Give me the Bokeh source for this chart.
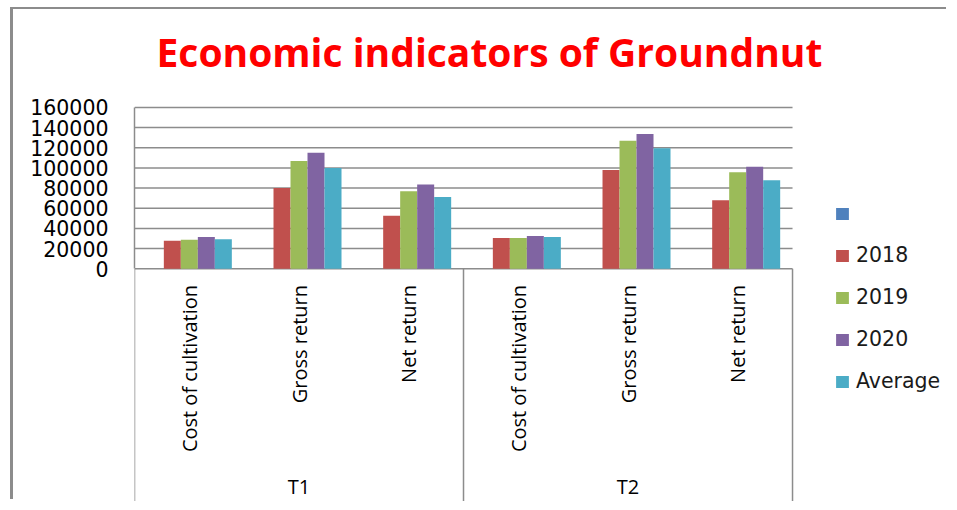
import math
from bokeh.plotting import figure
from bokeh.models import (ColumnDataSource, Range1d, FixedTicker, BasicTickFormatter,
                          Legend, LegendItem, Title)
from bokeh.transform import dodge
from bokeh.core.properties import value
from bokeh.embed import file_html
from bokeh.resources import INLINE

# ---------------- data ----------------
title_text = "Economic indicators of Groundnut"
groups = ["T1", "T2"]
indicators = ["Cost of cultivation", "Gross return", "Net return"]
series_names = [" ", "2018", "2019", "2020", "Average"]
series_colors = ["#4F81BD", "#C0504D", "#9BBB59", "#8064A2", "#4BACC6"]

blank = [float("nan")] * 6
v2018 = [27700, 80000, 52500, 30400, 98000, 68000]
v2019 = [28800, 107000, 77000, 30400, 127000, 95800]
v2020 = [31500, 115000, 83500, 32500, 133700, 101300]
vavg = [29200, 100000, 71200, 31400, 119500, 87800]
y_ticks = [0, 20000, 40000, 60000, 80000, 100000, 120000, 140000, 160000]

series_values = [blank, v2018, v2019, v2020, vavg]

# ---------------- layout constants (canvas px) ----------------
W, H = 936, 492
frame_left, frame_top = 121, 81
frame_w = W - frame_left                 # frame spans to right edge
frame_h = H - frame_top
px_per_cat = 109.67
px_per_unit_y = 161.7 / 160000.0
zero_px = 258.7                          # canvas y of value 0
n_cat = len(groups) * len(indicators)

y_end = (zero_px - frame_top) / px_per_unit_y
y_start = -(H - zero_px) / px_per_unit_y
x_end = frame_w / px_per_cat

cat_labels = [ind for g in groups for ind in indicators]
cat_x = [i + 0.5 for i in range(n_cat)]
grp_x = [gi * len(indicators) + len(indicators) / 2 for gi in range(len(groups))]
bounds_x = [gi * len(indicators) for gi in range(len(groups) + 1)]

data = {"x": cat_x, "label": cat_labels}
keys = []
for name, vals in zip(series_names, series_values):
    key = "s_" + name.strip() if name.strip() else "s_blank"
    keys.append(key)
    data[key] = vals
src = ColumnDataSource(data)

p = figure(width=W, height=H, output_backend="svg", toolbar_location=None,
           x_range=Range1d(0, x_end), y_range=Range1d(y_start, y_end),
           x_axis_location=None, min_border_left=frame_left, min_border_top=frame_top,
           min_border_right=0, min_border_bottom=0)
p.styles = {"margin-left": "13px", "margin-top": "9px",
            "box-shadow": "-3px -2px 0 0 #8c8c8c"}
p.outline_line_color = None
p.xgrid.visible = False
p.ygrid.visible = False
p.background_fill_color = "white"
p.border_fill_color = "white"

grid_col = "#8c8c8c"
# horizontal gridlines over the bar region
p.segment(x0=[0] * len(y_ticks), x1=[n_cat] * len(y_ticks), y0=y_ticks, y1=y_ticks,
          line_color=grid_col, line_width=1.5)
# category box separators
p.segment(x0=bounds_x, x1=bounds_x, y0=[0] * len(bounds_x), y1=[y_start] * len(bounds_x),
          line_color=grid_col, line_width=1.5)

bar_w = 17.0 / px_per_cat
items = []
for k, (name, col, key) in enumerate(zip(series_names, series_colors, keys)):
    off = (k - (len(series_names) - 1) / 2) * bar_w
    r = p.vbar(x=dodge("x", off), top=key, bottom=0, width=bar_w, source=src,
               fill_color=col, line_color=None)
    items.append(LegendItem(label=value(name), renderers=[r]))

# category labels (rotated)
label_y = -16.3 / px_per_unit_y
p.text(x="x", y=label_y, text="label", source=src, angle=math.pi / 2,
       text_align="right", text_baseline="middle", text_font=value("Open Sans"),
       text_font_size="20px", text_color="#000000")
grp_y = -218.5 / px_per_unit_y
p.text(x=grp_x, y=[grp_y] * len(grp_x), text=groups, text_align="center",
       text_baseline="middle", text_font=value("Open Sans"), text_font_size="20px",
       text_color="#000000")

ax = p.yaxis[0]
ax.ticker = FixedTicker(ticks=y_ticks)
ax.formatter = BasicTickFormatter(use_scientific=False)
ax.bounds = (0, 160000)
ax.axis_line_color = grid_col
ax.axis_line_width = 1.5
ax.major_tick_line_color = None
ax.minor_tick_line_color = None
ax.major_label_standoff = 20
ax.major_label_text_font = "DejaVu Sans"
ax.major_label_text_font_size = "20.5px"
ax.major_label_text_color = "#000000"

legend = Legend(items=items, location=(700, 108), orientation="vertical",
                glyph_width=16, glyph_height=15, label_standoff=6, spacing=18,
                padding=0, margin=0, border_line_color=None, background_fill_alpha=0,
                label_text_font="DejaVu Sans", label_text_font_size="20.5px",
                label_text_color="#1a1a1a", label_height=24)
p.add_layout(legend)

p.title = Title(text=title_text, align="left", offset=22, standoff=27,
                text_font="Open Sans", text_font_style="bold", text_font_size="39px",
                text_color="#FF0000")

open("out.html", "w").write(file_html(p, INLINE))
